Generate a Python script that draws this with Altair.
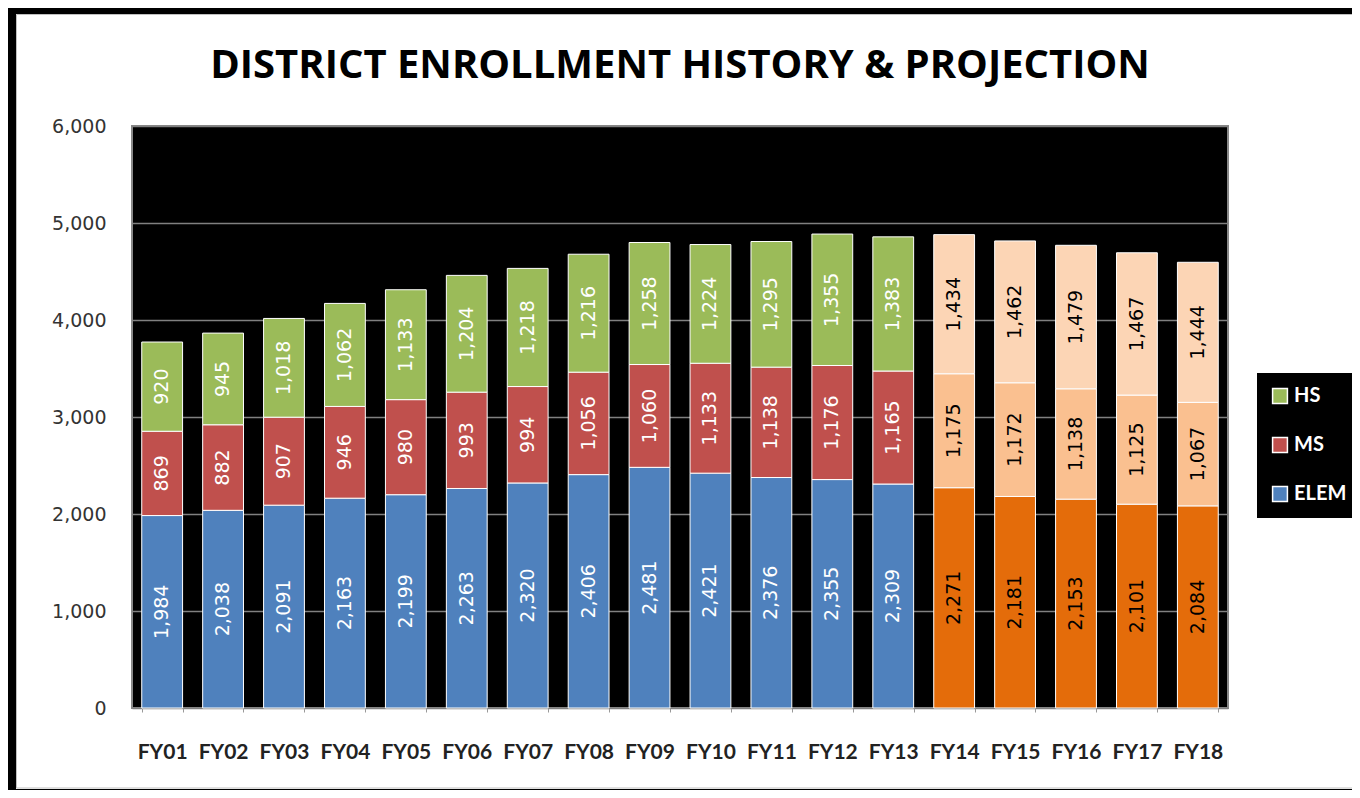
import altair as alt
import pandas as pd

years = ["FY01", "FY02", "FY03", "FY04", "FY05", "FY06", "FY07", "FY08", "FY09",
         "FY10", "FY11", "FY12", "FY13", "FY14", "FY15", "FY16", "FY17", "FY18"]
phases = ["History"] * 13 + ["Projection"] * 5
elem = [1984, 2038, 2091, 2163, 2199, 2263, 2320, 2406, 2481, 2421, 2376, 2355, 2309,
        2271, 2181, 2153, 2101, 2084]
ms = [869, 882, 907, 946, 980, 993, 994, 1056, 1060, 1133, 1138, 1176, 1165,
      1175, 1172, 1138, 1125, 1067]
hs = [920, 945, 1018, 1062, 1133, 1204, 1218, 1216, 1258, 1224, 1295, 1355, 1383,
      1434, 1462, 1479, 1467, 1444]
levels = ["ELEM", "MS", "HS"]
y_ticks = [0, 1000, 2000, 3000, 4000, 5000, 6000]

color_domain = ["HS", "MS", "ELEM", "HS (proj)", "MS (proj)", "ELEM (proj)"]
color_range = ["#9BBB59", "#C0504D", "#4F81BD", "#FCD5B5", "#FAC090", "#E46C0A"]

rows = []
for i, yr in enumerate(years):
    for lvl, vals in zip(levels, (elem, ms, hs)):
        rows.append({"year": yr, "phase": phases[i], "level": lvl, "value": vals[i]})
df = pd.DataFrame(rows)

W, H = 1096, 582

base = (
    alt.Chart(df)
    .transform_calculate(lvl_order="indexof(['ELEM','MS','HS'], datum.level)")
    .transform_stack(stack="value", groupby=["year"], as_=["v0", "v1"],
                     sort=[alt.SortField("lvl_order", order="ascending")])
    .transform_calculate(
        mid="(datum.v0 + datum.v1) / 2",
        key="datum.phase == 'Projection' ? datum.level + ' (proj)' : datum.level",
    )
)

x_enc = alt.X(
    "year:N",
    sort=years,
    scale=alt.Scale(paddingInner=0.33, paddingOuter=0.16),
    axis=alt.Axis(
        title=None, labelAngle=0, labelFont="Lato", labelFontWeight="bold",
        labelFontSize=21, labelColor="#222", ticks=True, tickSize=4,
        tickBand="extent", tickColor="#999", domain=False, labelPadding=29,
    ),
)

bars = base.mark_bar(stroke="white", strokeWidth=1).encode(
    x=x_enc,
    y=alt.Y(
        "v0:Q",
        scale=alt.Scale(domain=[0, 6000], nice=False),
        axis=alt.Axis(
            title=None, values=y_ticks, format=",.0f", labelFont="DejaVu Sans",
            labelFontSize=19, labelColor="#333", ticks=False, domain=False,
            gridColor="#808080", gridWidth=1.5, labelPadding=26,
        ),
    ),
    y2="v1:Q",
    color=alt.Color(
        "key:N",
        scale=alt.Scale(domain=color_domain, range=color_range),
        legend=alt.Legend(
            title=None, values=["HS", "MS", "ELEM"], orient="none",
            legendX=1125, legendY=247, fillColor="black", padding=13,
            labelColor="white", labelFont="Lato", labelFontWeight="bold",
            labelFontSize=20, symbolType="square", symbolSize=220,
            symbolStrokeColor="white", symbolStrokeWidth=1.5,
            rowPadding=27, labelOffset=4,
        ),
    ),
)

labels = base.mark_text(angle=270, font="DejaVu Sans", fontSize=19,
                        align="center", baseline="middle").encode(
    x=alt.X("year:N", sort=years),
    y=alt.Y("mid:Q"),
    text=alt.Text("value:Q", format=","),
    color=alt.condition(alt.datum.phase == "Projection",
                        alt.value("black"), alt.value("white")),
)

frame = alt.Chart(alt.InlineData(values=[{"a": 1}])).mark_rect(
    fillOpacity=0, stroke="black", strokeWidth=9
).encode(
    x=alt.value(-120.5), x2=alt.value(1300),
    y=alt.value(-116.5), y2=alt.value(667.5),
)
inner = alt.Chart(alt.InlineData(values=[{"a": 1}])).mark_rect(
    fillOpacity=0, stroke="#c0c0c0", strokeWidth=1
).encode(
    x=alt.value(-115.5), x2=alt.value(1300),
    y=alt.value(-111.5), y2=alt.value(662),
)

chart = (
    alt.layer(bars, labels, frame, inner)
    .properties(
        width=W, height=H,
        title=alt.TitleParams(
            "DISTRICT ENROLLMENT HISTORY & PROJECTION", font="Open Sans",
            fontSize=40, fontWeight="bold", color="black", anchor="middle",
            frame="group", offset=0, dy=81,
        ),
        padding={"left": 124, "top": 118, "right": 124, "bottom": 82},
        autosize=alt.AutoSizeParams(type="none"),
        background="white",
    )
    .configure_view(fill="black", stroke="#888888", strokeWidth=2)
)

chart.save("out.html", embed_options={"renderer": "svg", "actions": False})
